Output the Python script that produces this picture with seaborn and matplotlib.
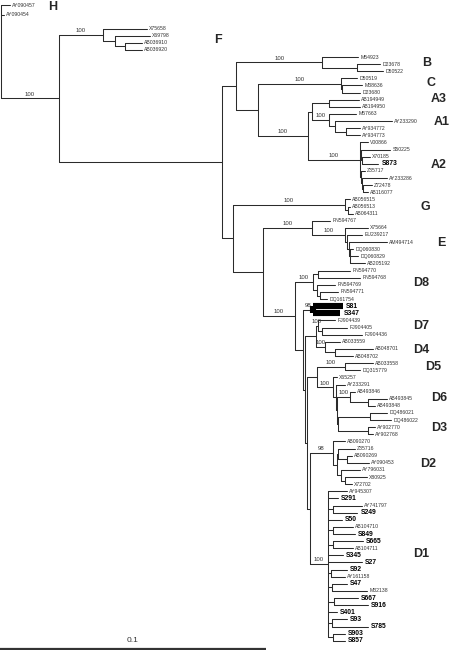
import re
import matplotlib
matplotlib.use("Agg")
import matplotlib.pyplot as plt
import pandas as pd
import seaborn as sns

# Tree in newick form. The number after ':' is the distance of the node from the
# root, in 1e-3 substitutions/site. Internal node names are bootstrap values.
tree_newick = """
(AY090457:3.4,AY090454:1.1,
 ((X75658:54.9,(X69798:56.0,(AB036910:53.0,AB036920:53.0):46.6):42.9)100:38.4,
  (((M54923:134.2,(D23678:142.5,D50522:143.6):133.9)100:120.7,
    ((D50519:133.9,(M38636:135.7,D23680:135.0):128.2)100:127.8,
     (((AB194949:134.6,AB194950:135.0):123.3,
       (M57663:133.5,(AY233290:147.0,(AY934772:135.0,AY934773:135.0):129.7):125.6)100:123.3):116.9,
      (V00866:138.0,(S50225:146.3,(X70185:138.7,S873:141.8):135.7):135.4,
       (Z35717:136.9,(AY233286:145.1,(Z72478:139.5,AB116077:138.0):136.1):135.7):135.4)100:135.0
     )100:115.4):96.6):88.4,
   ((AB056515:131.2,(AB056513:131.2,AB064311:132.4):130.5)100:129.3,
    ((FN594767:123.7,(X75664:138.0,(EU239217:135.7,(AM494714:145.1,
       (DQ060830:132.4,DQ060829:134.2,AB205192:136.9):131.2):130.8):130.1)100:129.3)100:116.9,
     (((FN594770:131.2,FN594768:135.0):119.2,
       (FN594769:125.6,(FN594771:126.7,DQ161754:122.6):119.9):118.8)100:117.3,
      ((S81:128.6,S347:127.5)98:117.3,
       (((FJ904439:125.6,(FJ904405:130.1,FJ904436:135.7):120.7)100:119.2,
         (AB033559:127.5,(AB048701:139.9,AB048702:132.4):125.6)100:121.8):118.4,
        (((AB033558:139.9,DQ315779:135.0)100:129.3,
          (X65257:126.3,(AY233291:129.3,
            ((AB493846:133.1,(AB493845:145.1,AB493848:140.6):138.0)100:131.2,
             ((DQ486021:145.1,DQ486022:146.6):138.7,
              (AY902770:140.6,AY902768:139.9):138.0):126.7):126.3):126.0)100:124.8):118.8,
         ((AB090270:129.3,((Z35716:133.1,(AB090269:132.0,AY090453:138.4):130.1):126.7,
            (AY796031:135.0,(X80925:137.6,X72702:132.0):129.3):127.8):126.3)98:124.8,
          (AY945307:130.1,S291:126.7,(AY741797:135.7,S249:133.9):124.8,S50:128.2,
           (AB104710:132.4,S849:133.1):124.8,(S665:136.1,AB104711:132.4):124.8,
           S345:128.6,S27:135.7,(S92:130.1,AY161158:129.3):124.1,
           (S47:130.1,M32138:137.6):124.5,(S667:134.2,S916:138.0):125.2,S401:126.3,
           (S93:130.1,S785:138.0):124.5,(S903:129.3,S857:129.3):124.8)100:122.9
         ):116.2):115.1):114.3):113.6)100:110.5):98.5):87.2):83.1)100:21.8);
"""

study_isolates = ["S873", "S81", "S347", "S291", "S249", "S50", "S849", "S665",
                  "S345", "S27", "S92", "S47", "S667", "S916", "S401", "S93",
                  "S785", "S903", "S857"]
thick_leaves = ["S81", "S347"]

# the two outgroup rows sit a little higher than the regular row spacing
row_nudge = {"AY090457": -1.3, "AY090454": -0.9}

clade_names = ["H", "F", "B", "C", "A3", "A1", "A2", "G", "E", "D8", "D7", "D4",
               "D5", "D6", "D3", "D2", "D1"]
clade_depth = [17.7, 80.1, 158.3, 159.8, 161.7, 162.8, 161.7, 157.5, 163.9, 154.9,
               154.9, 154.9, 159.4, 161.7, 161.7, 157.5, 154.9]
clade_row = [-1.0, 3.6, 6.84, 9.65, 11.9, 15.1, 21.2, 27.1, 32.1, 37.7, 43.8, 47.1,
             49.5, 53.9, 58.1, 63.2, 75.8]

scale_bar_length = 100.0  # 0.1 substitutions/site
scale_bar_label = "0.1"


def parse_newick(s):
    s = re.sub(r"\s+", "", s)
    pos = 0
    name_re = re.compile(r"[^:,();]*")
    num_re = re.compile(r":([0-9.]+)")

    def node():
        nonlocal pos
        children = []
        if s[pos] == "(":
            pos += 1
            while True:
                children.append(node())
                if s[pos] == ",":
                    pos += 1
                    continue
                pos += 1
                break
        m = name_re.match(s, pos)
        name = m.group(0)
        pos = m.end()
        depth = 0.0
        if pos < len(s) and s[pos] == ":":
            m = num_re.match(s, pos)
            depth = float(m.group(1))
            pos = m.end()
        return {"name": name, "depth": depth, "children": children}

    return node()


root = parse_newick(tree_newick)
leaves = []


def layout(n):
    if not n["children"]:
        n["y"] = len(leaves) + row_nudge.get(n["name"], 0.0)
        leaves.append(n)
    else:
        for c in n["children"]:
            layout(c)
        n["y"] = (n["children"][0]["y"] + n["children"][-1]["y"]) / 2


layout(root)

segs = []
supports = []


def collect(n, parent_depth):
    thick_node = bool(n["children"]) and all(c["name"] in thick_leaves for c in n["children"])
    if parent_depth is not None:
        segs.append(pd.DataFrame({"x": [parent_depth, n["depth"]], "y": [n["y"], n["y"]],
                                  "seg": len(segs), "thick": n["name"] in thick_leaves}))
        if n["children"] and n["name"]:
            supports.append((n["name"], (parent_depth + n["depth"]) / 2, n["y"]))
    if n["children"]:
        segs.append(pd.DataFrame({"x": [n["depth"], n["depth"]],
                                  "y": [n["children"][0]["y"], n["children"][-1]["y"]],
                                  "seg": len(segs), "thick": thick_node}))
        for c in n["children"]:
            collect(c, n["depth"])


collect(root, None)
seg_df = pd.concat(segs, ignore_index=True)

sns.set_style("white")
plt.rcParams["font.family"] = ["Liberation Sans", "DejaVu Sans"]

fig = plt.figure(figsize=(4.53, 6.5), dpi=100)
ax = fig.add_axes([0, 0, 1, 1])

sns.lineplot(data=seg_df[~seg_df["thick"]], x="x", y="y", units="seg", estimator=None,
             sort=False, color="#2b2b2b", linewidth=0.75, ax=ax, legend=False)
sns.lineplot(data=seg_df[seg_df["thick"]], x="x", y="y", units="seg", estimator=None,
             sort=False, color="black", linewidth=4.4, solid_capstyle="butt",
             ax=ax, legend=False)

for leaf in leaves:
    if leaf["name"] in study_isolates:
        ax.text(leaf["depth"] + 1.2, leaf["y"], leaf["name"], fontsize=4.9,
                fontweight="bold", ha="left", va="center", color="black")
    else:
        ax.text(leaf["depth"] + 0.8, leaf["y"], leaf["name"], fontsize=3.7,
                ha="left", va="center", color="#333333")

for label, x, y in supports:
    ax.text(x, y - 0.25, label, fontsize=4.3, ha="center", va="bottom", color="#333333")

for name, x, y in zip(clade_names, clade_depth, clade_row):
    ax.text(x, y, name, fontsize=9, fontweight="bold", ha="left", va="center")

bar_row = 89.15
ax.plot([-0.376, -0.376 + scale_bar_length], [bar_row, bar_row], color="#333333",
        linewidth=1.6, solid_capstyle="butt")
ax.text(-0.376 + scale_bar_length / 2, bar_row - 0.7, scale_bar_label, fontsize=6,
        ha="center", va="bottom", color="#333333")

ax.set_xlim(-0.376, 169.9)
ax.set_ylim(89.29, -2.006)
ax.axis("off")

fig.savefig("out.png", dpi=100)
